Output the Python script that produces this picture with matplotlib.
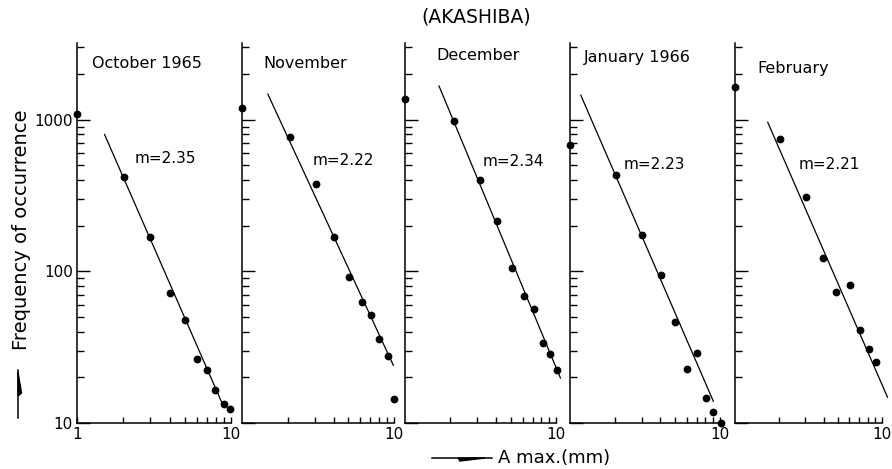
import numpy as np
import matplotlib
matplotlib.use("Agg")
import matplotlib.pyplot as plt
from matplotlib.ticker import LogLocator, NullFormatter, FixedLocator, FixedFormatter
from matplotlib.patches import Polygon

plt.rcParams['font.family'] = ['DejaVu Sans']

# month titles and slopes
titles = ["October 1965", "November", "December", "January 1966", "February"]
slopes = ["m=2.35", "m=2.22", "m=2.34", "m=2.23", "m=2.21"]

# points (A max in mm, frequency)
oct_x = [1, 2.02, 2.96, 4.02, 5.01, 6.02, 6.95, 7.91, 9.05, 9.86]
oct_y = [1090, 417, 169, 72, 48, 26.3, 22.3, 16.5, 13.3, 12.3]
nov_x = [1, 2.06, 3.05, 4.04, 5.04, 6.13, 7.10, 8.01, 9.09, 10]
nov_y = [1202, 771, 377, 168, 92, 63, 51.6, 35.8, 27.6, 14.5]
dec_x = [1, 2.12, 3.12, 4.09, 5.10, 6.18, 7.13, 8.25, 9.18, 10.2]
dec_y = [1371, 975, 400, 215, 105, 68.9, 56.5, 33.6, 28.7, 22.2]
jan_x = [1, 2.04, 3.04, 4.06, 5.05, 5.98, 7.07, 8.08, 9.03, 10.1]
jan_y = [682, 433, 174, 95, 46.6, 22.8, 29.0, 14.6, 11.9, 10]
feb_x = [1, 2.03, 3.02, 3.98, 4.89, 6.03, 7.10, 8.15, 9.12]
feb_y = [1633, 746, 309, 123, 72.8, 81.3, 41, 30.8, 25.1]

# fitted straight lines (ends)
oct_fit_x, oct_fit_y = [1.51, 8.9], [798, 13]
nov_fit_x, nov_fit_y = [1.48, 9.9], [1470, 24]
dec_fit_x, dec_fit_y = [1.68, 10.7], [1665, 19.8]
jan_fit_x, jan_fit_y = [1.18, 9.03], [1450, 13.9]
feb_fit_x, feb_fit_y = [1.67, 10.9], [960, 14.8]

xs = [oct_x, nov_x, dec_x, jan_x, feb_x]
ys = [oct_y, nov_y, dec_y, jan_y, feb_y]
fxs = [oct_fit_x, nov_fit_x, dec_fit_x, jan_fit_x, feb_fit_x]
fys = [oct_fit_y, nov_fit_y, dec_fit_y, jan_fit_y, feb_fit_y]

W, H = 892, 469
fig = plt.figure(figsize=(W / 100, H / 100), dpi=100)

# panel layout in pixels (left, right), axes from y=43 to y=423
lefts = [77, 242, 405, 570, 735]
rights = [231, 394, 556, 720, 882]
top_px, bot_px = 43, 423
title_pos = [(0.097, 0.947), (0.138, 0.947), (0.205, 0.968), (0.093, 0.963), (0.153, 0.934)]
m_pos = [(0.377, 0.697), (0.467, 0.692), (0.517, 0.687), (0.36, 0.679), (0.433, 0.679)]

for i in range(5):
    ax = fig.add_axes([lefts[i] / W, (H - bot_px) / H,
                       (rights[i] - lefts[i]) / W, (bot_px - top_px) / H])
    ax.set_xscale('log')
    ax.set_yscale('log')
    ax.set_xlim(1, 10)
    ax.set_ylim(10, 3200)
    ax.plot(fxs[i], fys[i], color='black', lw=0.9, clip_on=False)
    ax.plot(xs[i], ys[i], 'o', color='black', ms=4.6, clip_on=False, zorder=5)

    for s in ['top', 'right']:
        ax.spines[s].set_visible(False)
    for s in ['left', 'bottom']:
        ax.spines[s].set_linewidth(1.1)

    ax.yaxis.set_major_locator(FixedLocator([10, 100, 1000]))
    ax.yaxis.set_minor_locator(LogLocator(base=10, subs=np.arange(2, 10)))
    ax.yaxis.set_minor_formatter(NullFormatter())
    ax.tick_params(axis='y', which='major', direction='in', length=9, width=1.0, pad=3, labelsize=11)
    ax.tick_params(axis='y', which='minor', direction='in', length=5, width=1.0)
    if i == 0:
        ax.yaxis.set_major_formatter(FixedFormatter(["10", "100", "1000"]))
        ax.xaxis.set_major_locator(FixedLocator([1, 10]))
        ax.xaxis.set_major_formatter(FixedFormatter(["1", "10"]))
    else:
        ax.set_yticklabels([])
        ax.xaxis.set_major_locator(FixedLocator([10]))
        ax.xaxis.set_major_formatter(FixedFormatter(["10"]))
    ax.xaxis.set_minor_locator(LogLocator(base=10, subs=np.arange(2, 10)))
    ax.xaxis.set_minor_formatter(NullFormatter())
    ax.tick_params(axis='x', which='both', direction='in', length=4, width=1.0, pad=3, labelsize=11)

    ax.text(title_pos[i][0], title_pos[i][1], titles[i], transform=ax.transAxes,
            fontsize=11.5, va='center', ha='left')
    ax.text(m_pos[i][0], m_pos[i][1], slopes[i], transform=ax.transAxes,
            fontsize=11, va='center', ha='left')

fig.text(476 / W, 1 - 17 / H, "(AKASHIBA)", fontsize=13.5, ha='center', va='center')
fig.text(22 / W, 1 - 230 / H, "Frequency of occurrence", fontsize=14,
         rotation=90, ha='center', va='center')
fig.text(498 / W, 1 - 458 / H, "A max.(mm)", fontsize=13, ha='left', va='center')


def px(x, y):
    return (x / W, 1 - y / H)


# hand drawn arrows next to the axis labels
fig.add_artist(plt.Line2D([18 / W, 18 / W], [1 - 418 / H, 1 - 370 / H], color='black', lw=1.1))
fig.add_artist(Polygon([px(18, 396), px(21.5, 393), px(18, 372)], closed=True,
                       transform=fig.transFigure, color='black'))
fig.add_artist(plt.Line2D([432 / W, 492 / W], [1 - 458 / H, 1 - 458 / H], color='black', lw=1.1))
fig.add_artist(Polygon([px(458, 458), px(460, 461), px(485, 458)], closed=True,
                       transform=fig.transFigure, color='black'))

fig.savefig("out.png", dpi=100)
